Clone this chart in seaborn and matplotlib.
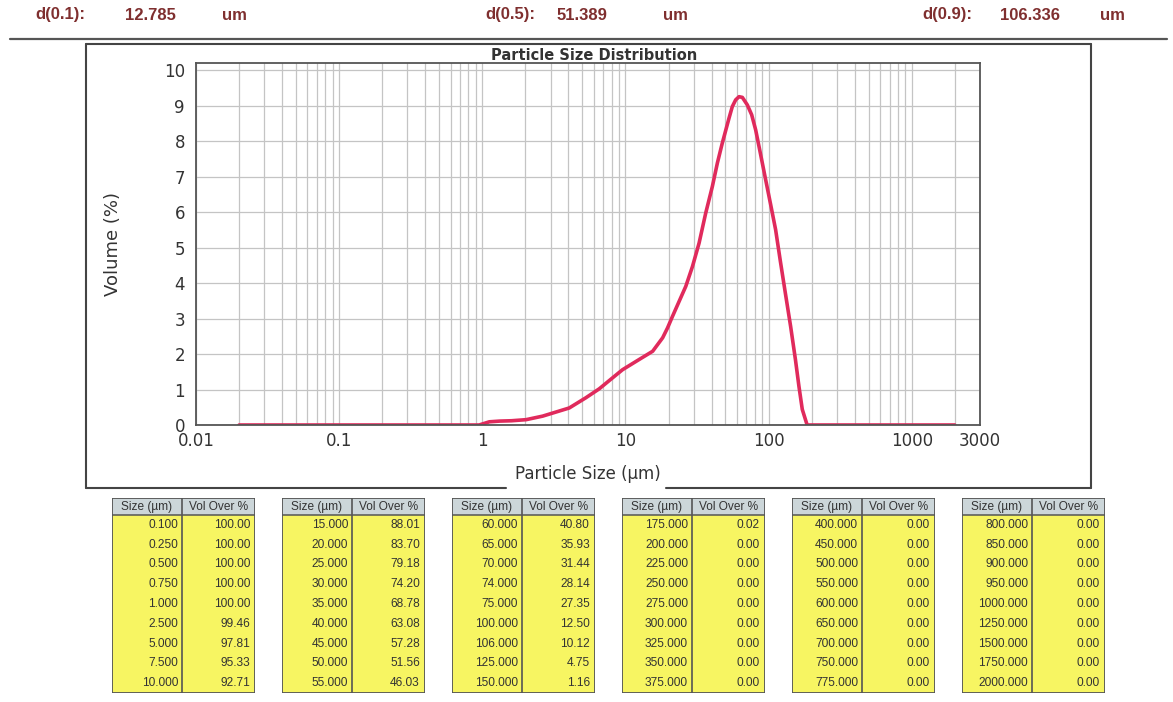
import numpy as np
import pandas as pd
import matplotlib
matplotlib.use("Agg")
import matplotlib.pyplot as plt
import seaborn as sns
from matplotlib import font_manager
from matplotlib.ticker import FixedLocator, FixedFormatter, NullFormatter
from matplotlib.lines import Line2D
from matplotlib.patches import Rectangle

# ---------------- data ----------------
size_um = [0.02, 0.05, 0.1, 0.2, 0.5, 0.95, 1.12, 1.32, 1.6, 2.02, 2.64, 4.05, 5.30,
           6.56, 8.13, 9.55, 12.5, 15.5, 18.2, 19.7, 21.3, 26.4, 29.4, 32.7, 36.4, 40.5,
           43.9, 47.5, 52.9, 55.8, 58.9, 62.2, 65.6, 71.0, 76.2, 81.3, 88.1, 95.4,
           103.5, 112, 121, 131, 142.6, 154, 163, 172, 186, 300, 600, 1000, 2000]
volume_pct = [0, 0, 0, 0, 0, 0, 0.09, 0.11, 0.12, 0.15, 0.25, 0.48, 0.77,
              1.02, 1.33, 1.56, 1.85, 2.08, 2.46, 2.74, 3.06, 3.91, 4.47, 5.13, 5.98, 6.73,
              7.39, 7.95, 8.65, 8.98, 9.17, 9.26, 9.24, 9.03, 8.75, 8.32, 7.62, 6.92,
              6.21, 5.51, 4.61, 3.72, 2.78, 1.85, 1.09, 0.44, 0, 0, 0, 0, 0]

x_tick_values = [0.01, 0.1, 1, 10, 100, 1000, 3000]
x_tick_labels = ["0.01", "0.1", "1", "10", "100", "1000", "3000"]
y_tick_values = list(range(0, 11))

d_labels = ["d(0.1):", "d(0.5):", "d(0.9):"]
d_values = ["12.785", "51.389", "106.336"]
d_unit = "um"

table_sizes = [0.1, 0.25, 0.5, 0.75, 1, 2.5, 5, 7.5, 10,
               15, 20, 25, 30, 35, 40, 45, 50, 55,
               60, 65, 70, 74, 75, 100, 106, 125, 150,
               175, 200, 225, 250, 275, 300, 325, 350, 375,
               400, 450, 500, 550, 600, 650, 700, 750, 775,
               800, 850, 900, 950, 1000, 1250, 1500, 1750, 2000]
table_vol_over = [100.00, 100.00, 100.00, 100.00, 100.00, 99.46, 97.81, 95.33, 92.71,
                  88.01, 83.70, 79.18, 74.20, 68.78, 63.08, 57.28, 51.56, 46.03,
                  40.80, 35.93, 31.44, 28.14, 27.35, 12.50, 10.12, 4.75, 1.16,
                  0.02, 0.00, 0.00, 0.00, 0.00, 0.00, 0.00, 0.00, 0.00,
                  0.00, 0.00, 0.00, 0.00, 0.00, 0.00, 0.00, 0.00, 0.00,
                  0.00, 0.00, 0.00, 0.00, 0.00, 0.00, 0.00, 0.00, 0.00]
table_headers = ["Size (µm)", "Vol Over %"]

title = "Particle Size Distribution"
x_label = "Particle Size (µm)"
y_label = "Volume (%)"

# ---------------- style ----------------
sns.set_theme(style="white")
plt.rcParams['font.family'] = ['DejaVu Sans']
installed = {f.name for f in font_manager.fontManager.ttflist}
table_font = 'Liberation Sans Narrow' if 'Liberation Sans Narrow' in installed else 'Liberation Sans'
table_fs = 9.5 if table_font == 'Liberation Sans Narrow' else 8.6

W, H = 1173, 702
fig = plt.figure(figsize=(W / 100, H / 100), dpi=100)
fig.patch.set_facecolor("white")

def fx(px):
    return px / W

def fy(py):
    return 1 - py / H

# ---------------- header ----------------
hdr_color = "#7f2f2f"
hdr_pos = [(35, 125, 222), (485, 557, 663), (922, 1000, 1100)]
for (lx, vx, ux), lab, val in zip(hdr_pos, d_labels, d_values):
    for x, s in ((lx, lab), (vx, val), (ux, d_unit)):
        fig.text(fx(x), fy(15), s, color=hdr_color, fontsize=12, fontweight="bold",
                 family="Liberation Sans", ha="left", va="center")
fig.add_artist(Line2D([fx(10), fx(1167)], [fy(39), fy(39)], color="#555555", lw=1.6))

# ---------------- outer box ----------------
box_c = "#444444"
box_lw = 1.5
fig.add_artist(Line2D([fx(86), fx(1091)], [fy(44), fy(44)], color=box_c, lw=box_lw))
fig.add_artist(Line2D([fx(86), fx(86)], [fy(44), fy(488)], color=box_c, lw=box_lw))
fig.add_artist(Line2D([fx(1091), fx(1091)], [fy(44), fy(488)], color=box_c, lw=box_lw))
fig.add_artist(Line2D([fx(86), fx(506)], [fy(488), fy(488)], color=box_c, lw=box_lw))
fig.add_artist(Line2D([fx(666), fx(1091)], [fy(488), fy(488)], color=box_c, lw=box_lw))

# ---------------- main chart ----------------
ax_l, ax_r, ax_t, ax_b = 196, 980, 63, 425
ax = fig.add_axes([fx(ax_l), fy(ax_b), fx(ax_r - ax_l), (ax_b - ax_t) / H])
df = pd.DataFrame({"size": size_um, "volume": volume_pct})
sns.lineplot(data=df, x="size", y="volume", ax=ax, color="#e02a5c", lw=2.6, sort=False)
ax.set_xscale("log")
ax.set_xlim(0.01, 3000)
ax.set_ylim(0, 10.21)

ax.xaxis.set_major_locator(FixedLocator(x_tick_values))
ax.xaxis.set_major_formatter(FixedFormatter(x_tick_labels))
minor = [m * 10.0 ** e for e in range(-2, 4) for m in range(2, 10) if m * 10.0 ** e <= 2000]
ax.xaxis.set_minor_locator(FixedLocator(minor))
ax.xaxis.set_minor_formatter(NullFormatter())
ax.yaxis.set_major_locator(FixedLocator(y_tick_values))

ax.grid(True, which="both", axis="x", color="#c4c4c4", lw=0.9)
ax.grid(True, which="major", axis="y", color="#c4c4c4", lw=0.9)
ax.set_axisbelow(True)
ax.tick_params(axis="both", which="both", length=0, labelsize=12, labelcolor="#333333")
ax.tick_params(axis="x", pad=5)
ax.tick_params(axis="y", pad=8)
for s in ax.spines.values():
    s.set_color("#555555")
    s.set_linewidth(1.3)

ax.set_xlabel("")
ax.set_ylabel(y_label, fontsize=13, color="#333333")
ax.yaxis.set_label_coords((122 - ax_l) / (ax_r - ax_l), 0.5)
ax.text((594 - ax_l) / (ax_r - ax_l), 1.0, title, transform=ax.transAxes,
        ha="center", va="bottom", fontsize=10.5, fontweight="bold", color="#333333")
fig.text(fx(588), fy(474), x_label, fontsize=12, color="#333333", ha="center", va="center")

# ---------------- tables ----------------
rows = 9
t_top, t_bot = 498, 693
hdr_h = 17
for i in range(6):
    left = 112 + 170 * i
    width = 143
    split = 70
    tax = fig.add_axes([fx(left), fy(t_bot), fx(width), (t_bot - t_top) / H])
    tax.set_xlim(0, width)
    tax.set_ylim(t_bot - t_top, 0)
    tax.axis("off")
    tot = t_bot - t_top
    tax.add_patch(Rectangle((0, 0), width, hdr_h, facecolor="#ccd6d9", edgecolor="none"))
    tax.add_patch(Rectangle((0, hdr_h), width, tot - hdr_h, facecolor="#f7f562", edgecolor="none"))
    tax.add_patch(Rectangle((0, 0), width, tot, facecolor="none", edgecolor="#555555", lw=1.3))
    tax.plot([0, width], [hdr_h, hdr_h], color="#555555", lw=1.1)
    tax.plot([split, split], [0, tot], color="#555555", lw=1.2)
    tax.text(split / 2, hdr_h / 2 + 0.5, table_headers[0], ha="center", va="center",
             fontsize=table_fs, family=table_font, color="#333333")
    tax.text(split + (width - split) / 2, hdr_h / 2 + 0.5, table_headers[1], ha="center", va="center",
             fontsize=table_fs, family=table_font, color="#333333")
    rh = (tot - hdr_h) / rows
    for r in range(rows):
        k = i * rows + r
        yc = hdr_h + rh * (r + 0.5)
        tax.text(split - 4, yc, f"{table_sizes[k]:.3f}", ha="right", va="center",
                 fontsize=table_fs, family=table_font, color="#333333")
        tax.text(width - 5, yc, f"{table_vol_over[k]:.2f}", ha="right", va="center",
                 fontsize=table_fs, family=table_font, color="#333333")

fig.savefig("out.png", dpi=100, facecolor="white")
